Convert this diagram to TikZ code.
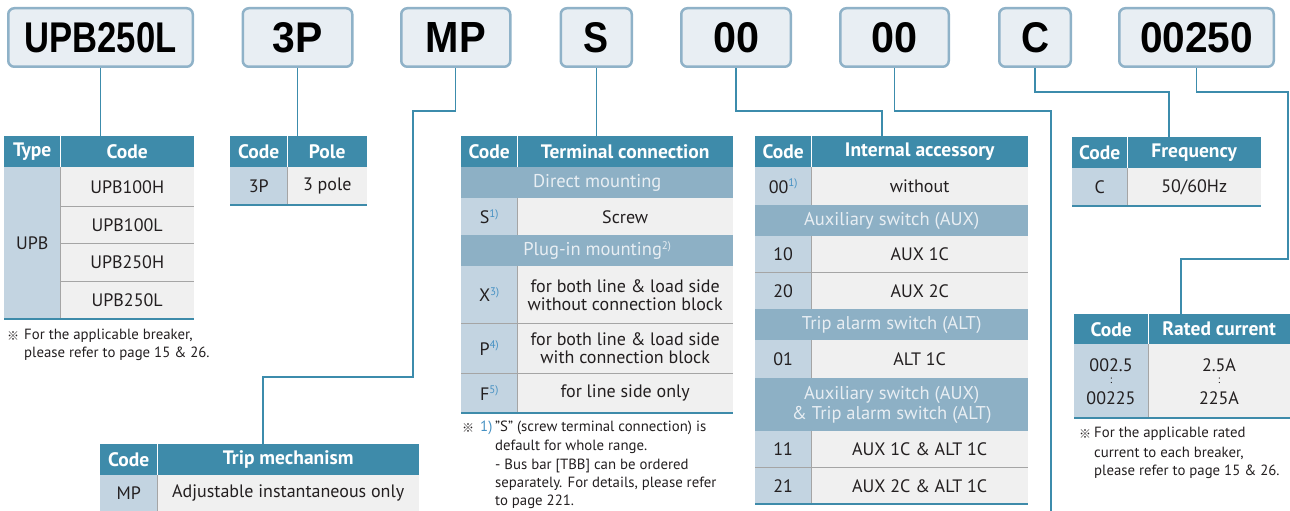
\documentclass[tikz,border=0pt]{standalone}
\usepackage{fontspec}
\usepackage{graphicx}
\usetikzlibrary{backgrounds}
\setmainfont{PT Sans}
\newfontfamily\codefont{Liberation Sans}
\newfontfamily\cjk{Noto Sans CJK JP}
\definecolor{hdrblue}{RGB}{62,139,170}
\definecolor{subblue}{RGB}{141,176,197}
\definecolor{subtext}{RGB}{232,238,243}
\definecolor{codeblue}{RGB}{195,212,225}
\definecolor{cellgray}{RGB}{240,240,240}
\definecolor{divgray}{RGB}{165,165,165}
\definecolor{linecol}{RGB}{60,140,172}
\definecolor{boxfill}{RGB}{232,238,243}
\definecolor{boxdraw}{RGB}{143,178,200}
\definecolor{txt}{RGB}{35,31,32}
\definecolor{supcol}{RGB}{70,145,195}
\newcommand\myhd{\bfseries\fontsize{19.5}{21}\selectfont}
\newcommand\mysb{\fontsize{18.5}{20}\selectfont}
\newcommand\mybd{\fontsize{18}{18}\selectfont}
\newcommand\myfn{\fontsize{14.8}{16}\selectfont}
\newcommand\refmark{{\cjk\fontsize{12}{12}\selectfont ※}}
\newcommand\mysup[1]{\raisebox{0.35em}{\fontsize{11}{11}\selectfont\color{supcol}#1}}
\newcommand\mysupw[1]{\raisebox{0.35em}{\fontsize{11}{11}\selectfont #1}}
\newcommand\codetxt[2]{\resizebox{#1pt}{30pt}{\codefont\bfseries #2}}
\newcommand\cel[7]{\node[#2,minimum width=#5pt,minimum height=#6pt] (#1) at (#3,#4) {#7};}
\tikzset{
  codebox/.style={draw=boxdraw, fill=boxfill, line width=2.5pt, rounded corners=6pt, inner sep=0pt, minimum height=58.5pt},
  con/.style={draw=linecol, line width=1.4pt},
  hd/.style={fill=hdrblue, text=white, font=\myhd, inner sep=0pt, anchor=north west},
  sb/.style={fill=subblue, text=subtext, font=\mysb, inner sep=0pt, anchor=north west, align=center},
  cc/.style={fill=codeblue, text=txt, font=\mybd, inner sep=0pt, anchor=north west, align=center},
  bc/.style={fill=cellgray, text=txt, font=\mybd, inner sep=0pt, anchor=north west, align=center},
  fn/.style={text=txt, font=\myfn, inner sep=0pt, anchor=west},
  dv/.style={draw=divgray, line width=1pt},
  hdsep/.style={draw=white, line width=1pt},
  bot/.style={draw=hdrblue, line width=2pt},
}
\begin{document}
\begin{tikzpicture}[x=1pt,y=-1pt]
\useasboundingbox (0,0) rectangle (1290,511);
% ---------- top code boxes ----------
\node[codebox, minimum width=184.5pt] (b1) at (100.5,37.5) {\codetxt{152}{UPB250L}};
\node[codebox, minimum width=109.5pt] (b2) at (297.5,37.5) {\codetxt{50}{3P}};
\node[codebox, minimum width=109pt] (b3) at (455.75,37.5) {\codetxt{60}{MP}};
\node[codebox, minimum width=71pt] (b4) at (596.25,37.5) {\codetxt{25}{S}};
\node[codebox, minimum width=109.5pt] (b5) at (736,37.5) {\codetxt{46}{00}};
\node[codebox, minimum width=108.5pt] (b6) at (894.5,37.5) {\codetxt{46}{00}};
\node[codebox, minimum width=71.5pt] (b7) at (1035,37.5) {\codetxt{28}{C}};
\node[codebox, minimum width=154.5pt] (b8) at (1196.5,37.5) {\codetxt{113}{00250}};
% ---------- Type table ----------
\cel{th1}{hd}{4}{136}{56}{31}{Type}
\cel{th2}{hd}{60}{136}{134}{31}{Code}
\cel{tc}{cc}{4}{167}{56}{152}{UPB}
\cel{t1}{bc}{60}{167}{134}{39}{UPB100H}
\cel{t2}{bc}{60}{206}{134}{37}{UPB100L}
\cel{t3}{bc}{60}{243}{134}{38}{UPB250H}
\cel{t4}{bc}{60}{281}{134}{38}{UPB250L}
\draw[hdsep] (60,136) -- (60,167);
\draw[dv] (60,167) -- (60,319);
\draw[dv] (60,206) -- (194,206);
\draw[dv] (60,243) -- (194,243);
\draw[dv] (60,281) -- (194,281);
\draw[bot] (4,319) -- (194,319);
\node[fn] (n1s) at (7,336) {\refmark};
\node[fn] (n1a) at (24,336) {For the applicable breaker,};
\node[fn] (n1b) at (24,354) {please refer to page 15 \& 26.};
% ---------- Pole table ----------
\cel{ph1}{hd}{230}{136}{57}{31}{Code}
\cel{ph2}{hd}{287}{136}{80}{31}{Pole}
\cel{pc}{cc}{230}{167}{57}{38}{3P}
\cel{pv}{bc}{287}{167}{80}{38}{3 pole}
\draw[hdsep] (287,136) -- (287,167);
\draw[dv] (287,167) -- (287,205);
\draw[bot] (230,205) -- (367,205);
% ---------- Terminal connection table ----------
\cel{mh1}{hd}{461}{136}{56}{31}{Code}
\cel{mh2}{hd}{517}{136}{216}{31}{Terminal connection}
\cel{ms1}{sb}{461}{167}{272}{31}{Direct mounting}
\cel{mc1}{cc}{461}{198}{56}{37}{S\mysup{1)}}
\cel{mv1}{bc}{517}{198}{216}{37}{Screw}
\cel{ms2}{sb}{461}{235}{272}{31}{Plug-in mounting\mysupw{2)}}
\cel{mc2}{cc}{461}{266}{56}{57}{X\mysup{3)}}
\cel{mv2}{bc}{517}{266}{216}{57}{for both line \& load side\\without connection block}
\cel{mc3}{cc}{461}{323}{56}{50}{P\mysup{4)}}
\cel{mv3}{bc}{517}{323}{216}{50}{for both line \& load side\\with connection block}
\cel{mc4}{cc}{461}{373}{56}{40}{F\mysup{5)}}
\cel{mv4}{bc}{517}{373}{216}{40}{for line side only}
\draw[hdsep] (517,136) -- (517,167);
\draw[dv] (517,198) -- (517,235);
\draw[dv] (517,266) -- (517,413);
\draw[dv] (461,323) -- (733,323);
\draw[dv] (461,373) -- (733,373);
\draw[bot] (461,413) -- (733,413);
\node[fn] (n2s) at (462,428) {\refmark};
\node[fn, text=supcol] (n2n) at (480,428) {1)};
\node[fn] (n2a) at (495,428) {\symbol{34}S\symbol{34} (screw terminal connection) is};
\node[fn] (n2b) at (495,447) {default for whole range.};
\node[fn] (n2c) at (495,466) {- Bus bar [TBB] can be ordered};
\node[fn] (n2d) at (495,484) {separately. For details, please refer};
\node[fn] (n2e) at (495,502) {to page 221.};
% ---------- Internal accessory table ----------
\cel{ih1}{hd}{755}{136}{56}{31}{Code}
\cel{ih2}{hd}{811}{136}{217}{31}{Internal accessory}
\cel{ic0}{cc}{755}{167}{56}{38}{00\mysup{1)}}
\cel{iv0}{bc}{811}{167}{217}{38}{without}
\cel{is1}{sb}{755}{205}{273}{31}{Auxiliary switch (AUX)}
\cel{ic1}{cc}{755}{236}{56}{36}{10}
\cel{iv1}{bc}{811}{236}{217}{36}{AUX 1C}
\cel{ic2}{cc}{755}{272}{56}{37}{20}
\cel{iv2}{bc}{811}{272}{217}{37}{AUX 2C}
\cel{is2}{sb}{755}{309}{273}{31}{Trip alarm switch (ALT)}
\cel{ic3}{cc}{755}{340}{56}{38}{01}
\cel{iv3}{bc}{811}{340}{217}{38}{ALT 1C}
\cel{is3}{sb}{755}{378}{273}{53}{Auxiliary switch (AUX)\\\& Trip alarm switch (ALT)}
\cel{ic4}{cc}{755}{431}{56}{36}{11}
\cel{iv4}{bc}{811}{431}{217}{36}{AUX 1C \& ALT 1C}
\cel{ic5}{cc}{755}{467}{56}{37}{21}
\cel{iv5}{bc}{811}{467}{217}{37}{AUX 2C \& ALT 1C}
\draw[hdsep] (811,136) -- (811,167);
\draw[dv] (811,167) -- (811,205);
\draw[dv] (811,236) -- (811,309);
\draw[dv] (811,340) -- (811,378);
\draw[dv] (811,431) -- (811,504);
\draw[dv] (755,272) -- (1028,272);
\draw[dv] (755,467) -- (1028,467);
\draw[bot] (755,504) -- (1028,504);
% ---------- Frequency table ----------
\cel{fh1}{hd}{1072}{137}{55}{31}{Code}
\cel{fh2}{hd}{1127}{137}{134}{31}{Frequency}
\cel{fc}{cc}{1072}{168}{55}{38}{C}
\cel{fv}{bc}{1127}{168}{134}{38}{50/60Hz}
\draw[hdsep] (1127,137) -- (1127,168);
\draw[dv] (1127,168) -- (1127,206);
\draw[bot] (1072,206) -- (1261,206);
% ---------- Rated current table ----------
\cel{rh1}{hd}{1074}{314}{74}{30}{Code}
\cel{rh2}{hd}{1148}{314}{142}{30}{Rated current}
\cel{rc}{cc}{1074}{344}{74}{74}{}
\cel{rv}{bc}{1148}{344}{142}{74}{}
\node[font=\mybd, text=txt, inner sep=0pt] (rc1) at (1111,365) {002.5};
\node[font=\fontsize{11}{11}\selectfont, text=txt, inner sep=0pt] (rc2) at (1111,381) {:};
\node[font=\mybd, text=txt, inner sep=0pt] (rc3) at (1111,398) {00225};
\node[font=\mybd, text=txt, inner sep=0pt] (rv1) at (1219,365) {2.5A};
\node[font=\fontsize{11}{11}\selectfont, text=txt, inner sep=0pt] (rv2) at (1219,381) {:};
\node[font=\mybd, text=txt, inner sep=0pt] (rv3) at (1219,398) {225A};
\draw[hdsep] (1148,314) -- (1148,344);
\draw[dv] (1148,344) -- (1148,418);
\draw[bot] (1074,418) -- (1290,418);
\node[fn] (n3s) at (1079,434) {\refmark};
\node[fn] (n3a) at (1094,434) {For the applicable rated};
\node[fn] (n3b) at (1094,453) {current to each breaker,};
\node[fn] (n3c) at (1094,472) {please refer to page 15 \& 26.};
% ---------- Trip mechanism table ----------
\cel{xh1}{hd}{100}{444}{57}{31}{Code}
\cel{xh2}{hd}{157}{444}{262}{31}{Trip mechanism}
\cel{xc}{cc}{100}{475}{57}{36}{MP}
\cel{xv}{bc}{157}{475}{262}{36}{Adjustable instantaneous only}
\fill[codeblue] (100,511) rectangle (157,515);
\fill[cellgray] (157,511) rectangle (419,515);
\draw[hdsep] (157,444) -- (157,475);
\draw[dv] (157,475) -- (157,515);
% ---------- connectors ----------
\coordinate (k3a) at (455.75,111);
\coordinate (k3b) at (413,111);
\coordinate (k3c) at (413,377);
\coordinate (k3d) at (263,377);
\coordinate (k5) at (882,111);
\coordinate (k6) at (1051,111);
\coordinate (k6e) at (1051,515);
\coordinate (k7) at (1169,92);
\coordinate (k8a) at (1288,92);
\coordinate (k8b) at (1288,259);
\coordinate (k8c) at (1181,259);
\begin{pgfonlayer}{background}
\draw[con] (b1.south) -- (b1.south |- th2.north);
\draw[con] (b2.south) -- (b2.south |- ph2.north);
\draw[con] (b3.south) -- (k3a) -- (k3b) -- (k3c) -- (k3d) -- (k3d |- xh2.north);
\draw[con] (b4.south) -- (b4.south |- mh2.north);
\draw[con] (b5.south) |- (k5) -- (k5 |- ih2.north);
\draw[con] (b6.south) |- (k6) -- (k6e);
\draw[con] (b7.south) |- (k7) -- (k7 |- fh2.north);
\draw[con] (b8.south) |- (k8a) -- (k8b) -- (k8c) -- (k8c |- rh2.north);
\end{pgfonlayer}
\end{tikzpicture}
\end{document}
